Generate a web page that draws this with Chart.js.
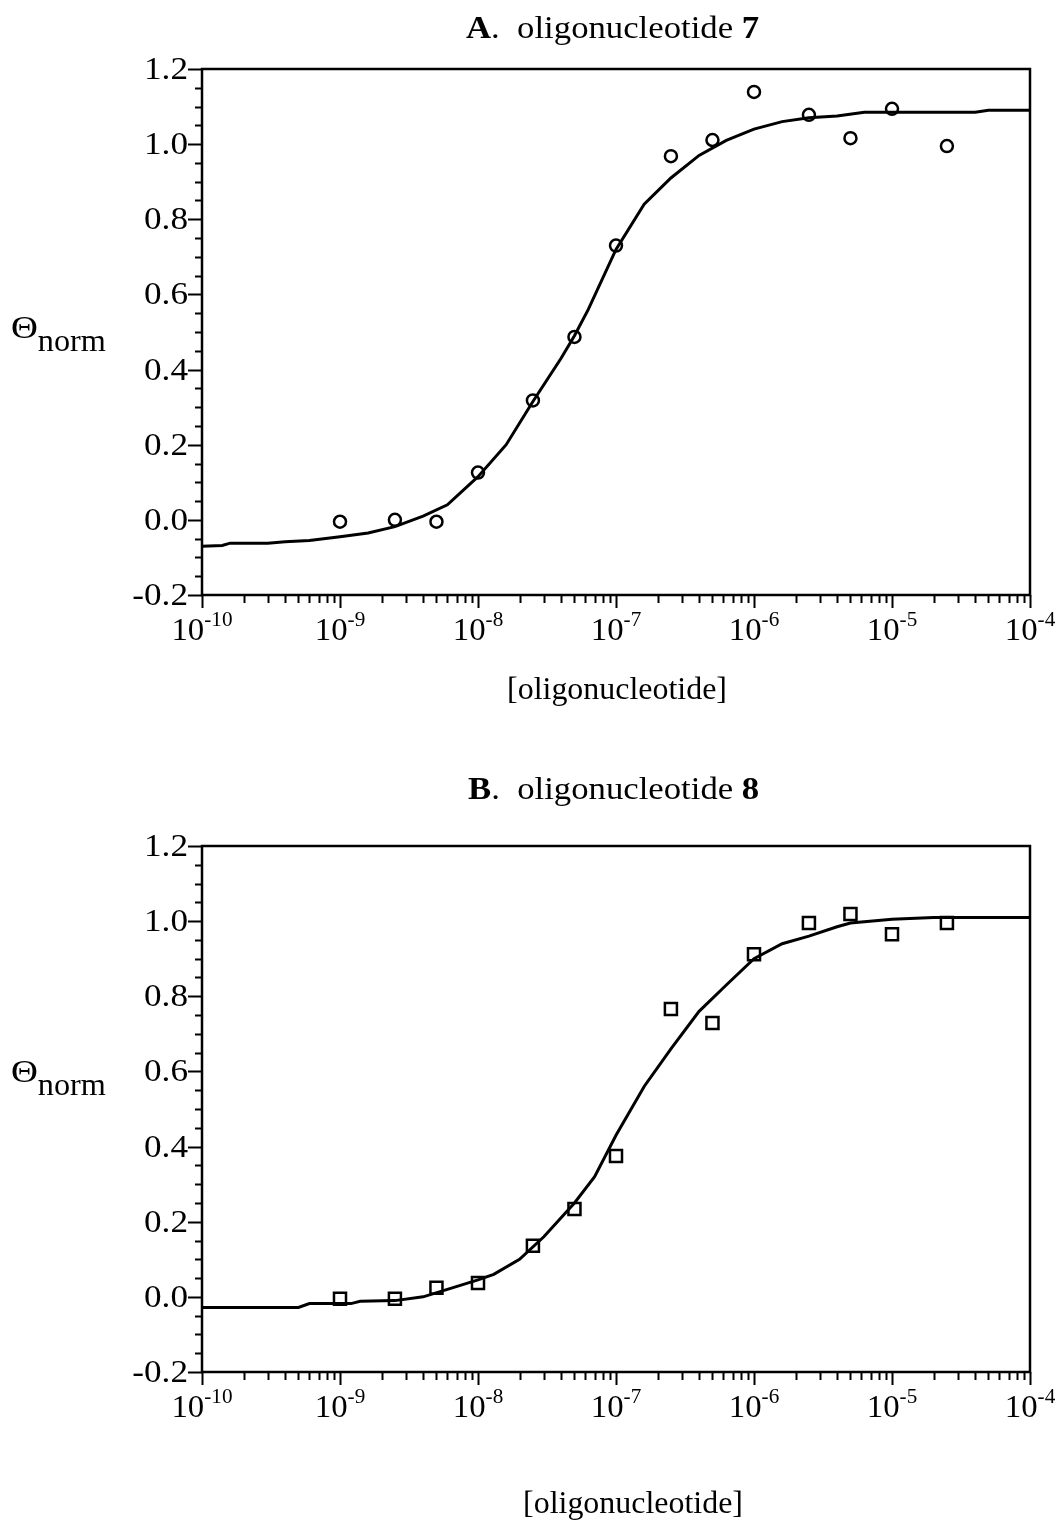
<!DOCTYPE html>
<html>
<head>
<meta charset="utf-8">
<script src="https://cdn.jsdelivr.net/npm/chart.js@4.4.1/dist/chart.umd.min.js"></script>
<style>
  body { margin: 0; background: #fff; }
  #wrap { position: relative; width: 1056px; height: 1526px; }
  canvas { position: absolute; left: 0; }
  #chartA { top: 0; }
  #chartB { top: 760px; }
</style>
</head>
<body>
<div id="wrap">
  <canvas id="chartA" width="1056" height="760"></canvas>
  <canvas id="chartB" width="1056" height="766"></canvas>
</div>
<script>
// measured points, oligonucleotide 7
const concA = [1e-9, 2.5e-9, 5e-9, 1e-8, 2.5e-8, 5e-8, 1e-7, 2.5e-7, 5e-7, 1e-6, 2.5e-6, 5e-6, 1e-5, 2.5e-5];
const thetaA = [-0.005, 0.0, -0.005, 0.126, 0.318, 0.487, 0.73, 0.968, 1.011, 1.139, 1.078, 1.016, 1.094, 0.995];

// fitted curve, oligonucleotide 7
const fitConcA = [1e-10, 1.4e-10, 1.6e-10, 3e-10, 4e-10, 6e-10, 1e-9, 1.6e-9, 2.5e-9, 4e-9, 6e-9, 1e-8, 1.6e-8, 2.5e-8, 4e-8, 5e-8, 6.3e-8, 1e-7, 1.6e-7, 2.5e-7, 4e-7, 6.3e-7, 1e-6, 1.6e-6, 2.5e-6, 4e-6, 6.3e-6, 1e-5, 2.5e-5, 4e-5, 5e-5, 1e-4];
const fitThetaA = [-0.07, -0.068, -0.062, -0.062, -0.058, -0.055, -0.045, -0.035, -0.018, 0.01, 0.04, 0.115, 0.2, 0.315, 0.43, 0.49, 0.56, 0.72, 0.84, 0.91, 0.97, 1.01, 1.04, 1.06, 1.07, 1.075, 1.085, 1.085, 1.085, 1.085, 1.09, 1.09];

// measured points, oligonucleotide 8
const concB = [1e-9, 2.5e-9, 5e-9, 1e-8, 2.5e-8, 5e-8, 1e-7, 2.5e-7, 5e-7, 1e-6, 2.5e-6, 5e-6, 1e-5, 2.5e-5];
const thetaB = [-0.005, -0.005, 0.024, 0.037, 0.136, 0.234, 0.375, 0.766, 0.729, 0.912, 0.995, 1.019, 0.965, 0.995];

// fitted curve, oligonucleotide 8
const fitConcB = [1e-10, 5e-10, 6e-10, 1.2e-9, 1.4e-9, 2.5e-9, 4e-9, 6e-9, 1e-8, 1.3e-8, 2e-8, 3e-8, 5e-8, 7e-8, 1e-7, 1.6e-7, 2.5e-7, 4e-7, 6.3e-7, 1e-6, 1.6e-6, 2.5e-6, 4e-6, 5e-6, 1e-5, 2e-5, 1e-4];
const fitThetaB = [-0.028, -0.028, -0.018, -0.018, -0.012, -0.01, 0.0, 0.02, 0.045, 0.06, 0.1, 0.16, 0.25, 0.32, 0.43, 0.56, 0.66, 0.76, 0.83, 0.9, 0.94, 0.96, 0.985, 0.995, 1.005, 1.01, 1.01];

// axis ticks
const decadeExps = [-10, -9, -8, -7, -6, -5, -4];
const minorMults = [2, 3, 4, 5, 6, 7, 8, 9];
const yLabels = ['-0.2', '0.0', '0.2', '0.4', '0.6', '0.8', '1.0', '1.2'];
const yMin = -0.2, yMax = 1.2, yMinorStep = 0.05;

const SERIF = '"Liberation Serif", "Times New Roman", serif';

function toXY(xs, ys) {
  return xs.map((x, i) => ({ x: x, y: ys[i] }));
}

// text with a horizontal stretch; returns the drawn width
function stretchText(ctx, text, x, y, font, sx, align) {
  ctx.font = font;
  const w = ctx.measureText(text).width * sx;
  let left = x;
  if (align === 'center') left = x - w / 2;
  else if (align === 'right') left = x - w;
  ctx.save();
  ctx.translate(left, y);
  ctx.scale(sx, 1);
  ctx.textAlign = 'left';
  ctx.fillText(text, 0, 0);
  ctx.restore();
  return w;
}

// frame, ticks, tick labels and text around the plot
const decorations = {
  id: 'decorations',
  afterDraw(chart, args, opts) {
    const ctx = chart.ctx;
    const area = chart.chartArea;
    const xs = chart.scales.x;
    const ys = chart.scales.y;
    ctx.save();
    ctx.strokeStyle = '#000';
    ctx.fillStyle = '#000';
    ctx.textBaseline = 'alphabetic';

    // box
    ctx.lineWidth = 2.5;
    ctx.strokeRect(area.left, area.top, area.right - area.left, area.bottom - area.top);

    // y ticks
    ctx.lineWidth = 2;
    ctx.beginPath();
    for (let k = 0; yMin + k * yMinorStep <= yMax + 1e-9; k++) {
      const py = Math.round(ys.getPixelForValue(yMin + k * yMinorStep)) + 0.5;
      ctx.moveTo(area.left, py);
      ctx.lineTo(area.left - (k % 4 === 0 ? 14 : 7), py);
    }
    ctx.stroke();

    // y tick labels
    yLabels.forEach(lab => {
      const py = ys.getPixelForValue(parseFloat(lab));
      stretchText(ctx, lab, area.left - 14, py + 10, '32px ' + SERIF, 1.1, 'right');
    });

    // x ticks
    ctx.beginPath();
    decadeExps.forEach((e, i) => {
      const base = Math.pow(10, e);
      const px = Math.round(xs.getPixelForValue(base)) + 0.5;
      ctx.moveTo(px, area.bottom);
      ctx.lineTo(px, area.bottom + 13);
      if (i < decadeExps.length - 1) {
        minorMults.forEach(m => {
          const mx = Math.round(xs.getPixelForValue(m * base)) + 0.5;
          ctx.moveTo(mx, area.bottom);
          ctx.lineTo(mx, area.bottom + 8);
        });
      }
    });
    ctx.stroke();

    // decade labels: 10 with a raised exponent
    const big = '31px ' + SERIF, small = '20px ' + SERIF;
    decadeExps.forEach(e => {
      const px = xs.getPixelForValue(Math.pow(10, e));
      const exp = String(e);
      ctx.font = big;
      const w1 = ctx.measureText('10').width * 1.06;
      ctx.font = small;
      const w2 = ctx.measureText(exp).width * 1.06;
      const left = px - (w1 + w2) / 2;
      stretchText(ctx, '10', left, area.bottom + 45, big, 1.06, 'left');
      stretchText(ctx, exp, left + w1, area.bottom + 31, small, 1.06, 'left');
    });

    // title: bold letter and number
    const parts = [
      { t: opts.letter, bold: true },
      { t: '.  oligonucleotide ', bold: false },
      { t: opts.number, bold: true }
    ];
    let tx = opts.titleX;
    parts.forEach(p => {
      tx += stretchText(ctx, p.t, tx, opts.titleY, (p.bold ? 'bold ' : '') + '31px ' + SERIF, 1.12, 'left');
    });

    // x axis title
    stretchText(ctx, '[oligonucleotide]', opts.xTitleX, opts.xTitleY, '31px ' + SERIF, 1.03, 'center');

    // y axis title
    const wT = stretchText(ctx, '\u0398', 11, opts.yTitleY, '31px ' + SERIF, 1.2, 'left');
    stretchText(ctx, 'norm', 11 + wT, opts.yTitleY + 13, '31px ' + SERIF, 1.04, 'left');

    ctx.restore();
  }
};

function makeChart(id, pts, fitX, fitY, pointStyle, radius, top, bottom, deco) {
  return new Chart(document.getElementById(id), {
    type: 'scatter',
    data: {
      datasets: [
        {
          data: toXY(fitX, fitY),
          showLine: true,
          borderColor: '#000',
          borderWidth: 3,
          pointRadius: 0,
          tension: 0
        },
        {
          data: pts,
          pointStyle: pointStyle,
          pointRadius: radius,
          pointBorderColor: '#000',
          pointBackgroundColor: 'rgba(0,0,0,0)',
          pointBorderWidth: 2.5,
          showLine: false
        }
      ]
    },
    options: {
      responsive: false,
      animation: false,
      layout: { padding: { top: top, right: 26, left: 0, bottom: 0 } },
      plugins: {
        legend: { display: false },
        tooltip: { enabled: false },
        decorations: deco
      },
      scales: {
        x: {
          type: 'logarithmic',
          min: 1e-10,
          max: 1e-4,
          grid: { display: false },
          border: { display: false },
          ticks: { display: false },
          afterFit(scale) { scale.height = bottom; }
        },
        y: {
          min: yMin,
          max: yMax,
          grid: { display: false, drawTicks: false },
          border: { display: false },
          ticks: { display: false },
          afterFit(scale) { scale.width = 202; }
        }
      }
    },
    plugins: [decorations]
  });
}

makeChart('chartA', toXY(concA, thetaA), fitConcA, fitThetaA, 'circle', 6, 69, 165, {
  letter: 'A', number: '7', titleX: 466, titleY: 38,
  xTitleX: 617, xTitleY: 699, yTitleY: 338
});

makeChart('chartB', toXY(concB, thetaB), fitConcB, fitThetaB, 'rect', 8.5, 86, 154, {
  letter: 'B', number: '8', titleX: 468, titleY: 39,
  xTitleX: 633, xTitleY: 753, yTitleY: 322
});
</script>
</body>
</html>
